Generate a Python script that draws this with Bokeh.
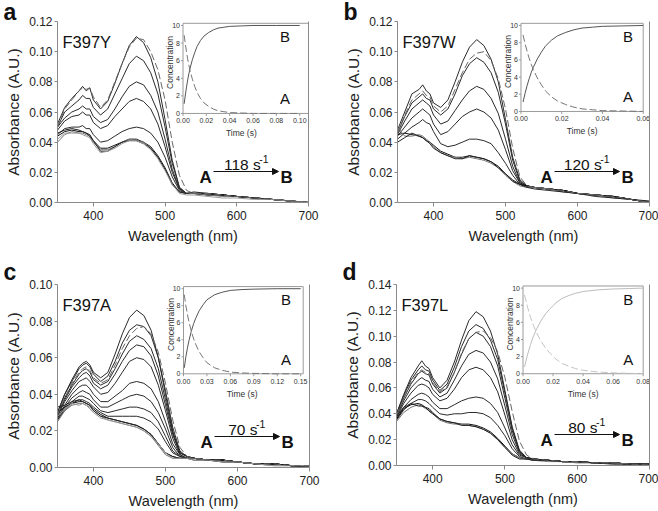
from math import pi
from bokeh.plotting import figure
from bokeh.layouts import row, column
from bokeh.models import (Range1d, LinearAxis, FixedTicker, PrintfTickFormatter,
                          Label, Arrow, NormalHead, Title)
from bokeh.core.properties import value
from bokeh.embed import file_html
from bokeh.resources import INLINE

FONT = "Liberation Sans"

# ---------------- data ----------------
WL = [350, 360, 370, 380, 385, 390, 395, 400, 410, 420, 430, 440, 450, 460, 470,
      480, 490, 500, 510, 520, 530, 540, 560, 580, 600, 625, 650, 675, 700]

# Panel a (F397Y)
A_SPECTRA = [
    [.052, .063, .069, .074, .077, .074, .076, .068, .062, .067, .079, .092, .104, .110, .106, .096, .080, .055, .028, .010, .006, .006, .006, .005, .004, .003, .002, .001, .000],
    [.050, .060, .064, .068, .071, .069, .069, .063, .058, .062, .072, .082, .092, .097, .094, .086, .072, .050, .026, .010, .006, .006, .006, .005, .004, .003, .002, .001, .000],
    [.050, .056, .060, .062, .064, .062, .062, .057, .053, .055, .062, .070, .077, .080, .078, .071, .060, .042, .022, .009, .006, .006, .006, .005, .004, .003, .002, .001, .000],
    [.048, .054, .057, .058, .060, .058, .058, .053, .049, .051, .057, .062, .067, .069, .067, .062, .052, .037, .020, .009, .006, .006, .005, .005, .004, .003, .002, .001, .000],
    [.045, .049, .050, .050, .051, .049, .049, .045, .040, .041, .044, .047, .049, .050, .049, .046, .040, .030, .017, .008, .006, .006, .005, .005, .004, .003, .002, .001, .000],
    [.044, .047, .048, .047, .047, .046, .045, .041, .036, .036, .038, .040, .042, .042, .040, .037, .031, .023, .013, .007, .006, .006, .005, .005, .004, .003, .002, .001, .000],
    [.040, .045, .047, .046, .046, .045, .044, .040, .035, .035, .037, .040, .042, .041, .040, .036, .030, .022, .012, .007, .006, .006, .005, .004, .004, .003, .002, .001, .000],
    [.046, .048, .049, .048, .047, .046, .044, .041, .034, .034, .037, .040, .041, .041, .039, .036, .030, .022, .012, .007, .006, .007, .006, .005, .004, .003, .002, .001, .000],
    [.042, .046, .046, .046, .045, .044, .043, .039, .033, .034, .036, .039, .041, .041, .039, .035, .029, .021, .012, .006, .005, .005, .004, .003, .003, .002, .002, .001, .000],
]
A_DASHED = [.050, .062, .068, .074, .076, .075, .076, .070, .063, .068, .080, .092, .103, .109, .108, .100, .088, .068, .040, .018, .008, .006, .006, .005, .004, .003, .002, .001, .000]
A_TIME = [0.001, 0.002, 0.003, 0.004, 0.005, 0.006, 0.008, 0.010, 0.012, 0.015, 0.018, 0.022, 0.026, 0.030, 0.035, 0.040, 0.050, 0.060, 0.080, 0.100]
A_CONC_B = [1.1, 2.1, 3.0, 3.8, 4.5, 5.1, 6.1, 6.9, 7.6, 8.3, 8.8, 9.2, 9.5, 9.7, 9.8, 9.9, 9.95, 10, 10, 10]
A_CONC_A = [8.9, 7.9, 7.0, 6.2, 5.5, 4.9, 3.9, 3.1, 2.4, 1.7, 1.2, 0.8, 0.5, 0.3, 0.2, 0.1, 0.05, 0, 0, 0]

# Panel b (F397W)
B_SPECTRA = [
    [.048, .060, .072, .075, .078, .074, .072, .066, .063, .068, .080, .093, .103, .108, .104, .095, .080, .055, .030, .015, .011, .010, .009, .008, .006, .005, .004, .002, .000],
    [.046, .057, .066, .070, .072, .069, .068, .062, .058, .062, .072, .084, .092, .096, .093, .086, .073, .052, .028, .014, .011, .010, .009, .008, .006, .005, .004, .002, .000],
    [.045, .054, .062, .066, .068, .066, .064, .058, .052, .054, .061, .068, .074, .077, .075, .069, .059, .042, .024, .013, .011, .010, .009, .008, .006, .005, .004, .002, .000],
    [.044, .050, .056, .060, .062, .060, .058, .052, .045, .047, .052, .057, .060, .062, .060, .056, .048, .035, .021, .013, .011, .010, .009, .008, .006, .005, .004, .002, .000],
    [.042, .046, .050, .053, .055, .053, .052, .047, .039, .037, .038, .040, .042, .042, .041, .039, .033, .026, .018, .012, .011, .010, .009, .008, .006, .005, .004, .002, .000],
    [.045, .046, .045, .044, .043, .041, .040, .038, .034, .032, .030, .030, .031, .030, .029, .027, .024, .019, .015, .012, .011, .010, .009, .008, .006, .005, .004, .002, .000],
    [.050, .044, .044, .045, .044, .042, .040, .037, .033, .031, .030, .029, .030, .029, .028, .026, .023, .018, .014, .011, .010, .010, .009, .007, .006, .005, .003, .002, .000],
    [.040, .043, .046, .044, .043, .041, .039, .036, .033, .031, .029, .029, .031, .030, .029, .027, .023, .019, .014, .012, .010, .009, .008, .007, .006, .004, .003, .002, .001],
]
B_DASHED = [.046, .058, .068, .072, .074, .071, .070, .064, .060, .064, .075, .086, .095, .099, .100, .094, .082, .062, .036, .017, .011, .010, .009, .008, .006, .005, .004, .002, .000]
B_TIME = [0.001, 0.002, 0.003, 0.004, 0.005, 0.006, 0.008, 0.010, 0.012, 0.015, 0.018, 0.022, 0.026, 0.030, 0.035, 0.040, 0.050, 0.060]
B_CONC_B = [1.1, 2.1, 3.0, 3.8, 4.5, 5.1, 6.1, 6.9, 7.6, 8.3, 8.8, 9.2, 9.5, 9.7, 9.8, 9.9, 9.95, 10]
B_CONC_A = [8.9, 7.9, 7.0, 6.2, 5.5, 4.9, 3.9, 3.1, 2.4, 1.7, 1.2, 0.8, 0.5, 0.3, 0.2, 0.1, 0.05, 0]

# Panel c (F397A)
C_SPECTRA = [
    [.030, .040, .048, .055, .057, .058, .056, .052, .049, .052, .062, .073, .082, .086, .083, .075, .060, .040, .020, .008, .006, .005, .004, .004, .003, .002, .002, .001, .001],
    [.030, .040, .047, .054, .056, .057, .055, .051, .047, .050, .058, .068, .075, .078, .077, .072, .060, .042, .022, .009, .006, .005, .004, .004, .003, .002, .002, .001, .001],
    [.029, .038, .045, .051, .053, .054, .052, .048, .045, .047, .054, .062, .069, .072, .070, .065, .054, .037, .019, .008, .006, .005, .004, .004, .003, .002, .002, .001, .001],
    [.028, .037, .044, .049, .051, .052, .050, .046, .043, .045, .051, .058, .064, .067, .066, .061, .050, .034, .018, .008, .006, .005, .004, .004, .003, .002, .002, .001, .001],
    [.028, .036, .042, .047, .048, .049, .047, .044, .040, .041, .046, .052, .058, .060, .059, .055, .045, .031, .016, .007, .005, .005, .004, .004, .003, .002, .002, .001, .001],
    [.027, .034, .040, .044, .045, .045, .043, .040, .036, .036, .039, .042, .046, .047, .046, .043, .036, .025, .013, .007, .005, .005, .004, .004, .003, .002, .002, .001, .001],
    [.027, .033, .038, .041, .042, .041, .040, .037, .033, .033, .035, .037, .039, .040, .039, .036, .030, .021, .011, .006, .005, .005, .004, .004, .003, .002, .002, .001, .001],
    [.026, .032, .036, .039, .039, .038, .037, .035, .031, .030, .031, .032, .033, .033, .032, .030, .025, .017, .009, .006, .005, .005, .004, .004, .003, .002, .002, .001, .001],
    [.026, .031, .035, .037, .037, .036, .035, .033, .030, .028, .028, .028, .028, .028, .027, .025, .021, .014, .008, .006, .005, .005, .004, .004, .003, .002, .002, .001, .001],
    [.030, .033, .035, .036, .036, .035, .034, .032, .029, .027, .026, .025, .024, .023, .021, .018, .013, .008, .006, .005, .005, .005, .004, .004, .003, .002, .002, .001, .001],
    [.025, .031, .034, .035, .035, .034, .033, .031, .028, .026, .025, .024, .023, .022, .020, .017, .012, .007, .005, .005, .005, .005, .004, .003, .003, .002, .001, .001, .001],
    [.033, .034, .036, .037, .036, .035, .034, .031, .028, .027, .026, .025, .024, .023, .021, .018, .013, .008, .006, .005, .005, .004, .004, .003, .003, .002, .002, .001, .000],
    [.028, .032, .035, .034, .035, .034, .032, .030, .027, .026, .025, .024, .023, .022, .020, .017, .013, .008, .005, .005, .005, .004, .004, .003, .003, .002, .001, .001, .001],
]
C_DASHED = [.029, .038, .046, .052, .054, .055, .053, .049, .046, .048, .056, .065, .072, .076, .077, .073, .063, .046, .026, .011, .006, .005, .004, .004, .003, .002, .002, .001, .001]
C_TIME = [0.001, 0.003, 0.005, 0.007, 0.010, 0.013, 0.016, 0.020, 0.025, 0.030, 0.040, 0.050, 0.060, 0.075, 0.090, 0.120, 0.150]
C_CONC_B = [0.7, 2.0, 3.0, 3.9, 5.0, 5.9, 6.6, 7.4, 8.1, 8.7, 9.3, 9.6, 9.8, 9.9, 9.95, 10, 10]
C_CONC_A = [9.3, 8.0, 7.0, 6.1, 5.0, 4.1, 3.4, 2.6, 1.9, 1.3, 0.7, 0.4, 0.2, 0.1, 0.05, 0, 0]

# Panel d (F397L)
D_SPECTRA = [
    [.040, .055, .068, .077, .081, .077, .075, .068, .060, .066, .080, .097, .112, .119, .115, .104, .086, .058, .030, .012, .006, .005, .004, .003, .003, .002, .002, .001, .001],
    [.040, .054, .066, .074, .077, .074, .073, .066, .058, .063, .076, .092, .104, .109, .106, .097, .082, .056, .029, .011, .006, .005, .004, .003, .003, .002, .002, .001, .001],
    [.039, .052, .063, .071, .073, .071, .070, .063, .056, .060, .072, .086, .098, .103, .100, .092, .077, .052, .027, .011, .006, .005, .004, .003, .003, .002, .002, .001, .001],
    [.038, .050, .060, .066, .068, .066, .065, .059, .053, .056, .066, .077, .086, .089, .087, .080, .067, .046, .024, .010, .006, .005, .004, .003, .003, .002, .002, .001, .001],
    [.037, .048, .056, .062, .063, .062, .060, .055, .050, .052, .059, .068, .074, .076, .074, .068, .057, .039, .020, .009, .006, .005, .004, .003, .003, .002, .002, .001, .001],
    [.036, .045, .051, .055, .056, .055, .053, .049, .044, .044, .047, .050, .052, .053, .052, .048, .041, .029, .016, .008, .006, .005, .004, .003, .003, .002, .002, .001, .001],
    [.035, .043, .048, .051, .051, .050, .048, .045, .040, .039, .040, .040, .041, .041, .040, .037, .031, .023, .013, .007, .005, .005, .004, .003, .003, .002, .002, .001, .001],
    [.036, .044, .047, .048, .047, .045, .044, .041, .036, .034, .033, .032, .032, .031, .029, .026, .021, .015, .009, .006, .005, .004, .004, .003, .003, .002, .002, .001, .001],
    [.034, .041, .045, .047, .046, .044, .043, .040, .035, .033, .032, .032, .031, .030, .028, .025, .020, .014, .009, .006, .005, .004, .003, .003, .002, .002, .002, .001, .000],
    [.038, .045, .048, .046, .046, .045, .042, .040, .036, .034, .033, .031, .031, .030, .028, .025, .020, .014, .008, .005, .005, .004, .004, .003, .003, .002, .001, .001, .001],
]
D_DASHED = [.039, .052, .064, .072, .074, .072, .071, .064, .057, .061, .072, .087, .098, .103, .104, .099, .088, .068, .042, .019, .008, .005, .004, .003, .003, .002, .002, .001, .001]
D_TIME = [0.001, 0.003, 0.005, 0.007, 0.009, 0.012, 0.015, 0.018, 0.022, 0.026, 0.030, 0.035, 0.040, 0.050, 0.060, 0.070, 0.080]
D_CONC_B = [0.8, 2.2, 3.4, 4.4, 5.2, 6.2, 7.0, 7.6, 8.3, 8.8, 9.1, 9.4, 9.6, 9.8, 9.9, 9.95, 10]
D_CONC_A = [9.2, 7.8, 6.6, 5.6, 4.8, 3.8, 3.0, 2.4, 1.7, 1.2, 0.9, 0.6, 0.4, 0.2, 0.1, 0.05, 0]

X_TICKS = [400, 500, 600, 700]
CONC_TICKS = [0, 2, 4, 6, 8, 10]

# ---------------- styling helpers ----------------
AXC = "#8a8a8a"
TXT = "#222222"
CHAR_W = {"0": .556, "1": .556, "2": .556, "3": .556, "4": .556, "5": .556,
          "6": .556, "7": .556, "8": .556, "9": .556, " ": .278, "s": .5, "-": .333}


def text_width(s, size):
    return sum(CHAR_W.get(ch, .556) for ch in s) * size


def build(letter, name, ymax, ystep, spectra, n_b, dashed, t, ca, cb, tmax, tstep,
          rate, left, fw, right, top, fh, bottom, ix0, ix1, iy0, iy1, box_r,
          letter_standoff, light=False):
    p = figure(frame_width=fw, frame_height=fh, min_border_left=left,
               min_border_right=right, min_border_top=top, min_border_bottom=bottom,
               x_range=Range1d(350, 700), y_range=Range1d(0, ymax),
               output_backend="svg", toolbar_location=None,
               x_axis_label="Wavelength (nm)", y_axis_label="Absorbance (A.U.)")
    p.grid.visible = False
    p.outline_line_color = None
    p.background_fill_color = "white"
    p.border_fill_color = "white"

    for ax in (p.xaxis[0], p.yaxis[0]):
        ax.axis_line_color = AXC
        ax.major_tick_line_color = AXC
        ax.minor_tick_line_color = None
        ax.major_tick_in = 0
        ax.major_label_text_font = FONT
        ax.major_label_text_font_size = "12px"
        ax.major_label_text_color = TXT
        ax.axis_label_text_font = FONT
        ax.axis_label_text_font_style = "normal"
        ax.axis_label_text_color = TXT
    p.xaxis.axis_label_text_font_size = "14.5px"
    p.yaxis.axis_label_text_font_size = "15.5px"
    p.xaxis.ticker = FixedTicker(ticks=X_TICKS)
    p.xaxis.major_tick_out = 4
    p.xaxis.major_label_standoff = 4
    p.xaxis.axis_label_standoff = 5
    nyt = int(round(ymax / ystep))
    p.yaxis.ticker = FixedTicker(ticks=[round(i * ystep, 3) for i in range(nyt + 1)])
    p.yaxis.formatter = PrintfTickFormatter(format="%.2f")
    p.yaxis.major_tick_out = 3
    p.yaxis.major_label_standoff = 2
    p.yaxis.axis_label_standoff = 4

    rax = LinearAxis(ticker=FixedTicker(ticks=[]), axis_line_color=AXC,
                     major_tick_line_color=None, minor_tick_line_color=None,
                     major_label_text_font_size="0px")
    p.add_layout(rax, "right")

    # panel letter as a title above the frame
    p.add_layout(Title(text=letter, align="left", offset=-min(left - 1, 54),
                       text_font=FONT, text_font_size="23px", text_font_style="bold",
                       text_color="#111111", standoff=letter_standoff,
                       vertical_align="bottom"),
                 "above")

    # spectra
    a_cols = ["#111111", "#777777", "#222222", "#999999", "#333333"]
    for i, s in enumerate(spectra):
        if i < n_b:
            col = "#2a2a2a"
        else:
            col = a_cols[(i - n_b) % len(a_cols)]
        p.line(WL, s, line_color=col, line_width=1)
    p.line(WL, dashed, line_color="#666666", line_width=1, line_dash="7 3")

    # inset (mapped through its own ranges)
    span_t = tmax / (ix1 - ix0)
    t0 = -ix0 * span_t
    span_c = 10.0 / (iy1 - iy0)
    c0 = -iy0 * span_c
    p.extra_x_ranges = {"t": Range1d(t0, t0 + span_t)}
    p.extra_y_ranges = {"c": Range1d(c0, c0 + span_c)}
    kw = dict(x_range_name="t", y_range_name="c")
    box_col = "#9a9a9a"
    p.quad(left=[0], right=[t0 + box_r * span_t], bottom=[0], top=[10.25],
           fill_color="white", line_color=box_col, line_width=1, **kw)
    b_col = "#bdbdbd" if light else "#555555"
    a_col = "#c4c4c4" if light else "#777777"
    p.line(t, cb, line_color=b_col, line_width=1, **kw)
    p.line(t, ca, line_color=a_col, line_width=1, line_dash="7 3", **kw)

    dt = 2.0 * span_t / fw
    dc = 2.5 * span_c / fh
    n_c = len(CONC_TICKS)
    p.segment(x0=[0] * n_c, y0=CONC_TICKS, x1=[-dt] * n_c, y1=CONC_TICKS,
              line_color=box_col, **kw)
    p.text(x=[0] * n_c, y=CONC_TICKS, text=[str(v) for v in CONC_TICKS],
           x_offset=-3, text_align="right", text_baseline="middle",
           text_font=value(FONT), text_font_size=value("7px"), text_color="#333333", **kw)
    ntt = int(round(tmax / tstep))
    tv = [round(i * tstep, 3) for i in range(ntt + 1)]
    p.segment(x0=tv, y0=[0] * len(tv), x1=tv, y1=[-dc] * len(tv),
              line_color=box_col, **kw)
    p.text(x=tv, y=[0] * len(tv), text=[f"{v:.2f}" for v in tv], y_offset=5,
           text_align="center", text_baseline="top",
           text_font=value(FONT), text_font_size=value("7px"), text_color="#333333", **kw)
    p.text(x=[tmax / 2], y=[0], text=["Time (s)"], y_offset=20, text_align="center",
           text_baseline="middle", text_font=value(FONT), text_font_size=value("8.5px"),
           text_color="#333333", **kw)
    p.text(x=[0], y=[5.8], text=["Concentration"], x_offset=-13, angle=pi / 2,
           text_align="center", text_baseline="middle", text_font=value(FONT),
           text_font_size=value("8.5px"), text_color="#333333", **kw)
    p.text(x=[0.875 * tmax, 0.875 * tmax], y=[8.7, 1.7], text=["B", "A"],
           text_align="center", text_baseline="middle", text_font=value(FONT),
           text_font_size=value("15px"), text_color="#111111", **kw)

    # panel name
    p.add_layout(Label(x=350, y=ymax, x_offset=5, y_offset=-20, text=name,
                       text_font=FONT, text_font_size="16.5px", text_color="#111111",
                       text_align="left", text_baseline="alphabetic"))

    # rate scheme  A --k--> B
    def xd(dx):
        return 700 + dx * 350.0 / fw

    def yd(dy):
        return dy * ymax / fh

    p.add_layout(Label(x=700, y=0, x_offset=-109, y_offset=25, text="A",
                       text_font=FONT, text_font_size="17px", text_font_style="bold",
                       text_color="#111111", text_align="left", text_baseline="alphabetic"))
    p.add_layout(Label(x=700, y=0, x_offset=-28, y_offset=25, text="B",
                       text_font=FONT, text_font_size="17px", text_font_style="bold",
                       text_color="#111111", text_align="left", text_baseline="alphabetic"))
    p.add_layout(Arrow(end=NormalHead(size=6, line_color="#111111", fill_color="#111111"),
                       x_start=xd(-95), y_start=yd(31), x_end=xd(-30), y_end=yd(31),
                       line_color="#111111", line_width=1))
    main = f"{rate} s"
    w_main = text_width(main, 15.5)
    w_sup = text_width("-1", 10.5)
    junction = -62 - (w_main + w_sup) / 2 + w_main
    p.add_layout(Label(x=700, y=0, x_offset=junction, y_offset=38, text=main,
                       text_font=FONT, text_font_size="15.5px", text_color="#111111",
                       text_align="right", text_baseline="alphabetic"))
    p.add_layout(Label(x=700, y=0, x_offset=junction - 1.5, y_offset=44, text="-1",
                       text_font=FONT, text_font_size="10.5px", text_color="#111111",
                       text_align="left", text_baseline="alphabetic"))
    return p


pa = build("a", "F397Y", 0.12, 0.02, A_SPECTRA, 5, A_DASHED, A_TIME, A_CONC_A, A_CONC_B,
           0.10, 0.02, 118, left=57, fw=251, right=22, top=21, fh=181, bottom=54,
           ix0=0.50, ix1=0.965, iy0=0.492, iy1=0.978, box_r=1.0, letter_standoff=-7)
pb = build("b", "F397W", 0.12, 0.02, B_SPECTRA, 5, B_DASHED, B_TIME, B_CONC_A, B_CONC_B,
           0.06, 0.02, 120, left=67, fw=252, right=9, top=21, fh=181, bottom=54,
           ix0=0.49, ix1=0.975, iy0=0.503, iy1=0.978, box_r=0.975, letter_standoff=-7)
pc = build("c", "F397A", 0.10, 0.02, C_SPECTRA, 9, C_DASHED, C_TIME, C_CONC_A, C_CONC_B,
           0.15, 0.03, 70, left=57, fw=252, right=21, top=28, fh=183, bottom=44,
           ix0=0.50, ix1=0.965, iy0=0.512, iy1=0.977, box_r=0.975, letter_standoff=0)
pd = build("d", "F397L", 0.14, 0.02, D_SPECTRA, 7, D_DASHED, D_TIME, D_CONC_A, D_CONC_B,
           0.08, 0.02, 80, left=66, fw=253, right=9, top=27, fh=181, bottom=47,
           ix0=0.50, ix1=0.975, iy0=0.507, iy1=0.98, box_r=0.975, letter_standoff=-1,
           light=True)

layout = column(row(pa, pb), row(pc, pd))
open("out.html", "w").write(file_html(layout, INLINE))
